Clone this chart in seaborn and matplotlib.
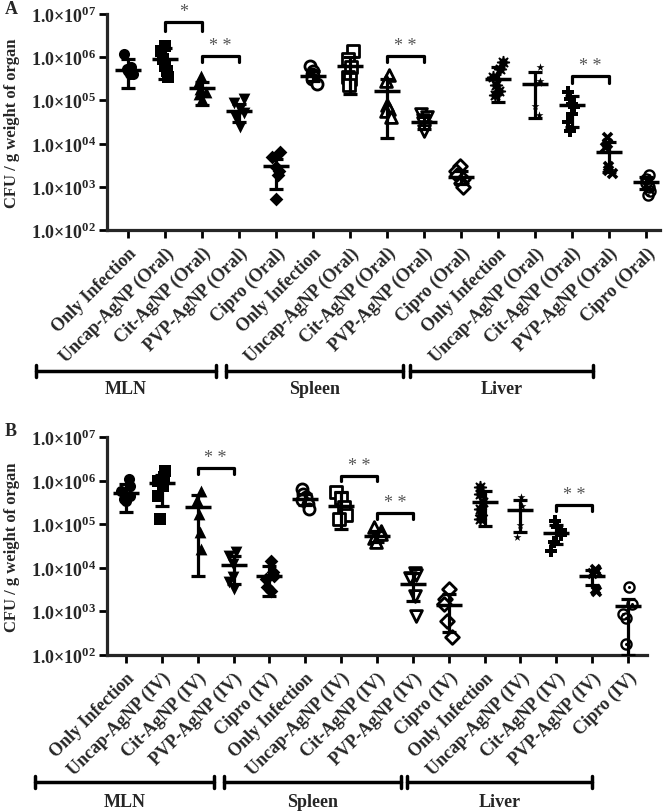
import warnings
import numpy as np
import pandas as pd
import seaborn as sns
import matplotlib.pyplot as plt
from matplotlib.lines import Line2D
from matplotlib.path import Path

warnings.filterwarnings('ignore')
np.random.seed(7)  # only for the horizontal jitter of the dots

# ---- data (CFU / g) ----
organs = ['MLN', 'Spleen', 'Liver']
treat_oral = ['Only Infection', 'Uncap-AgNP (Oral)', 'Cit-AgNP (Oral)', 'PVP-AgNP (Oral)', 'Cipro (Oral)']
treat_iv = ['Only Infection', 'Uncap-AgNP (IV)', 'Cit-AgNP (IV)', 'PVP-AgNP (IV)', 'Cipro (IV)']

# panel A (oral), log10 CFU per animal
oral_pts = [
    [6.07, 5.78, 5.72, 5.62, 5.60, 5.68],
    [6.26, 6.14, 5.96, 5.80, 5.68, 5.54],
    [5.56, 5.40, 5.26, 5.19, 5.15, 5.03],
    [5.03, 4.94, 4.80, 4.71, 4.59, 4.38],
    [3.81, 3.69, 3.46, 3.37, 3.27, 2.72],
    [5.80, 5.68, 5.61, 5.56, 5.50, 5.38],
    [6.14, 5.96, 5.77, 5.54, 5.50, 5.36],
    [5.59, 5.45, 4.89, 4.80, 4.75, 4.62],
    [4.69, 4.62, 4.55, 4.48, 4.38, 4.29],
    [3.48, 3.37, 3.27, 3.18, 3.09, 3.00],
    [5.89, 5.73, 5.54, 5.36, 5.22, 5.13],
    [5.77, 5.45, 5.40, 4.87, 4.66],
    [5.19, 5.03, 4.92, 4.85, 4.69, 4.50, 4.29],
    [4.15, 4.01, 3.92, 3.48, 3.39, 3.32],
    [3.27, 3.18, 3.09, 3.00, 2.90, 2.81],
]
oral_mean = [5.70, 5.96, 5.29, 4.75, 3.48, 5.56, 5.80, 5.22, 4.50, 3.23, 5.50, 5.38, 4.89, 3.81, 3.11]
oral_hi = [5.96, 6.22, 5.43, 4.92, 3.64, 5.68, 6.00, 5.50, 4.64, 3.36, 5.77, 5.65, 5.10, 4.04, 3.22]
oral_lo = [5.29, 5.50, 4.89, 4.50, 2.95, 5.44, 5.15, 4.13, 4.34, 3.07, 4.96, 4.59, 4.38, 3.34, 2.96]

# panel B (IV)
iv_pts = [
    [6.04, 5.88, 5.76, 5.65, 5.58, 5.53],
    [6.22, 6.08, 5.99, 5.88, 5.65, 5.12],
    [5.76, 5.55, 5.23, 4.82, 4.43],
    [4.36, 4.27, 4.09, 3.79, 3.67, 3.51],
    [4.16, 3.90, 3.81, 3.74, 3.56, 3.47],
    [5.81, 5.69, 5.62, 5.56, 5.46, 5.35],
    [5.74, 5.60, 5.39, 5.21, 5.12],
    [4.94, 4.84, 4.78, 4.68, 4.59],
    [3.88, 3.84, 3.76, 3.35, 2.89],
    [3.51, 3.28, 3.17, 2.78, 2.41],
    [5.85, 5.69, 5.51, 5.35, 5.21, 5.12],
    [5.62, 5.42, 4.98, 4.71],
    [5.07, 4.94, 4.87, 4.75, 4.59, 4.39],
    [3.97, 3.93, 3.88, 3.51, 3.47],
    [3.56, 3.17, 2.94, 2.85, 2.25],
]
iv_mean = [5.72, 5.94, 5.39, 4.06, 3.81, 5.58, 5.42, 4.73, 3.63, 3.15, 5.51, 5.33, 4.80, 3.81, 3.12]
iv_hi = [5.92, 6.12, 5.67, 4.27, 4.04, 5.70, 5.74, 4.85, 3.88, 3.40, 5.76, 5.56, 4.98, 3.95, 3.28]
iv_lo = [5.28, 5.42, 3.81, 3.63, 3.35, 5.44, 4.89, 4.60, 3.24, 2.53, 4.96, 4.82, 4.55, 3.61, 2.00]

# significance brackets: (left group, right group, log10 line, log10 tip, text)
oral_sig = [(1, 2, 6.81, 6.60, '*'), (2, 3, 6.03, 5.89, '**'), (7, 8, 6.03, 5.89, '**'), (12, 13, 5.56, 5.40, '**')]
iv_sig = [(2, 3, 6.29, 6.15, '**'), (6, 7, 6.11, 5.99, '**'), (7, 8, 5.26, 5.12, '**'), (12, 13, 5.44, 5.30, '**')]

yticks_exp = [2, 3, 4, 5, 6, 7]

# ---- style ----
sns.set_style('ticks')
plt.rcParams['font.family'] = ['Liberation Serif', 'DejaVu Serif']
plt.rcParams['font.weight'] = 'bold'
plt.rcParams['mathtext.fontset'] = 'custom'
plt.rcParams['mathtext.rm'] = 'Liberation Serif:bold'
plt.rcParams['mathtext.bf'] = 'Liberation Serif:bold'


def ring(r_in, r_dot, n=48):
    # open circle with a filled dot in the middle
    t = np.linspace(0, 2 * np.pi, n)
    c, s = np.cos(t), np.sin(t)
    verts = np.concatenate([np.c_[c, s], np.c_[r_in * c, r_in * s][::-1], np.c_[r_dot * c, r_dot * s]])
    codes = ([Path.MOVETO] + [Path.LINETO] * (n - 1)) * 3
    return Path(verts, codes)


def gear(n=8, n_pts=200):
    t = np.linspace(0, 2 * np.pi, n_pts, endpoint=False)
    r = 1 + 0.22 * np.clip(np.cos(n * t) * 1.6, -1, 1)
    return Path(np.c_[r * np.cos(t), r * np.sin(t)], closed=False)


# marker style per group: (marker, filled, size, linewidth)
styles = [
    ('o', True, 8, 0), ('s', True, 8, 0), ('^', True, 8.5, 0), ('v', True, 8.5, 0), ('D', True, 7, 0),
    ('o', False, 8, 2), ('s', False, 8, 2), ('^', False, 8.5, 2), ('v', False, 8.5, 2), ('D', False, 7, 2),
    (gear(), True, 9.5, 0), ('*', True, 6, 0), ('P', True, 8, 0), ('x', True, 6.5, 2.6), (ring(0.62, 0.24), True, 9, 0),
]

W, H = 666, 812
fig = plt.figure(figsize=(W / 100, H / 100), dpi=100)


def draw_panel(rect, treats, pts, mean, hi, lo, sig, xlim, letter, letter_y, bracket_spans, bracket_y, label_y):
    ax = fig.add_axes(rect)
    keys = [f'{o}|{t}' for o in organs for t in treats]
    for i, vals in enumerate(pts):
        df = pd.DataFrame({'group': keys[i], 'cfu': 10 ** np.array(vals)})
        mk, filled, sz, lw = styles[i]
        sns.stripplot(data=df, x='group', y='cfu', order=keys, ax=ax, marker=mk, size=sz,
                      color='black' if filled else 'white', linewidth=lw, edgecolor='black',
                      log_scale=True, jitter=0.14, zorder=2)
    idx = np.arange(len(keys))
    m = 10 ** np.array(mean)
    ax.errorbar(idx, m, yerr=[m - 10 ** np.array(lo), 10 ** np.array(hi) - m], fmt='none',
                ecolor='black', elinewidth=2.3, capsize=5, capthick=2.3, zorder=3)
    ax.scatter(idx, m, marker='_', s=19 ** 2, color='black', linewidths=2.5, zorder=3)

    for a, b, yl, yt, txt in sig:
        ax.plot([a, a, b, b], [10 ** yt, 10 ** yl, 10 ** yl, 10 ** yt], color='black', lw=2.3, clip_on=False)
        ax.text((a + b) / 2, 10 ** (yl + 0.05), txt.replace('**', '* *'), ha='center', va='bottom',
                fontsize=13, fontweight='normal', color='#555555')

    ax.set_yscale('log')
    ax.set_ylim(1e2, 1e7)
    ax.set_xlim(*xlim)
    ax.set_yticks([10.0 ** e for e in yticks_exp])
    ax.set_yticklabels([r'1.0×10$^{\mathbf{%02d}}$' % e for e in yticks_exp], fontsize=13, fontweight='bold')
    ax.yaxis.set_minor_locator(plt.NullLocator())
    ax.set_xticks(idx)
    ax.set_xticklabels(treats * 3, rotation=45, ha='right', va='top', rotation_mode='anchor',
                       fontsize=13, fontweight='bold')
    ax.set_xlabel('')
    ax.set_ylabel('CFU / g weight of organ', fontsize=12, fontweight='bold')
    ax.yaxis.set_label_coords(-87 / (rect[2] * W), 0.5)
    ax.tick_params(axis='both', width=2, length=6, color='black', pad=2)
    ax.tick_params(axis='x', pad=4)
    for s in ['left', 'bottom']:
        ax.spines[s].set_linewidth(2.3)
    sns.despine(ax=ax)

    fig.text(5 / W, 1 - letter_y / H, letter, fontsize=13, fontweight='bold', va='center')
    for (x0, x1), name in zip(bracket_spans, organs):
        yy = 1 - bracket_y / H
        fig.add_artist(Line2D([x0 / W, x1 / W], [yy, yy], color='black', lw=2.5))
        for xe in (x0, x1):
            fig.add_artist(Line2D([xe / W, xe / W], [yy - 6 / H, yy + 6 / H], color='black', lw=2.5))
        fig.text((x0 + x1) / 2 / W, 1 - label_y / H, name, ha='center', va='center',
                 fontsize=13, fontweight='bold')
    return ax


draw_panel([107 / W, 1 - 231 / H, 553 / W, 216 / H], treat_oral, oral_pts, oral_mean, oral_hi, oral_lo,
           oral_sig, (-0.57, 14.38), 'A', 10,
           [(36, 216), (226, 403), (410, 593)], 372, 390)
draw_panel([107 / W, 1 - 656 / H, 540 / W, 218 / H], treat_iv, iv_pts, iv_mean, iv_hi, iv_lo,
           iv_sig, (-0.53, 14.53), 'B', 432,
           [(35, 214), (224, 401), (407, 592)], 783, 803)

fig.savefig('out.png', dpi=100)
